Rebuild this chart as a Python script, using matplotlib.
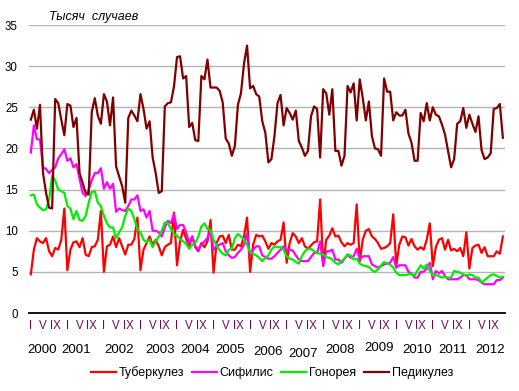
import numpy as np
import matplotlib
matplotlib.use("Agg")
import matplotlib.pyplot as plt
from matplotlib.transforms import blended_transform_factory

plt.rcParams['font.family'] = ['Liberation Sans', 'DejaVu Sans']

# monthly data, Jan 2000 - Dec 2012, thousand cases
tuberculosis = [
    4.7, 7.7, 9.1, 8.7, 8.5, 9.1, 7.5, 6.9, 7.9, 7.7, 8.9, 12.7,
    5.2, 7.7, 8.6, 8.7, 8.0, 9.1, 7.1, 6.9, 8.0, 8.1, 8.9, 12.4,
    5.0, 8.1, 8.3, 9.3, 8.0, 9.1, 8.1, 7.1, 8.3, 8.3, 9.0, 11.6,
    5.2, 7.7, 8.5, 9.3, 8.3, 8.9, 8.1, 7.0, 8.0, 8.3, 8.5, 12.2,
    5.8, 8.7, 10.1, 9.0, 8.1, 9.3, 8.0, 7.5, 8.5, 8.0, 8.7, 11.3,
    4.9, 8.5, 9.3, 9.4, 8.5, 9.5, 7.7, 7.7, 8.3, 8.1, 9.3, 11.6,
    5.0, 8.3, 9.5, 9.3, 9.4, 8.7, 7.8, 8.5, 8.3, 8.7, 8.9, 11.0,
    6.1, 8.5, 9.7, 9.3, 8.5, 9.1, 8.1, 7.8, 8.2, 8.6, 8.7, 13.8,
    5.8, 8.9, 9.4, 10.3, 9.3, 9.4, 8.6, 8.1, 8.5, 8.3, 8.5, 13.2,
    6.3, 8.9, 10.0, 10.2, 9.3, 9.0, 8.5, 7.8, 7.9, 8.1, 8.5, 12.0,
    5.8, 8.3, 9.3, 9.2, 8.2, 9.0, 8.1, 7.7, 8.0, 7.7, 8.9, 10.9,
    5.7, 8.0, 8.9, 9.1, 7.7, 8.9, 7.6, 7.8, 7.5, 7.9, 6.9, 9.8,
    5.4, 7.9, 8.2, 8.3, 7.3, 8.0, 6.9, 6.9, 6.9, 7.5, 7.2, 9.3,
]
syphilis = [
    19.5, 22.8, 21.1, 21.1, 17.7, 17.5, 17.0, 17.4, 17.7, 18.8, 19.3, 19.9,
    18.5, 18.8, 17.7, 18.1, 16.3, 14.6, 14.2, 15.0, 16.1, 17.0, 17.0, 17.6,
    15.1, 15.9, 15.1, 15.7, 12.3, 12.7, 12.5, 12.4, 13.0, 13.8, 13.8, 14.3,
    12.4, 12.6, 11.6, 12.4, 10.0, 10.0, 9.8, 9.3, 10.4, 11.2, 10.9, 12.0,
    10.2, 10.7, 10.7, 9.8, 8.5, 9.3, 8.1, 7.7, 8.3, 8.7, 9.1, 10.0,
    7.7, 8.1, 8.3, 8.5, 7.5, 7.0, 6.7, 6.8, 7.3, 7.7, 8.3, 9.6,
    7.0, 7.7, 8.1, 8.1, 7.0, 6.8, 6.6, 6.6, 6.9, 7.3, 7.7, 8.1,
    7.7, 7.7, 7.6, 7.0, 6.5, 6.3, 6.3, 6.3, 6.8, 7.3, 7.3, 8.7,
    5.7, 7.5, 7.5, 7.7, 6.5, 6.5, 6.1, 6.6, 7.1, 6.7, 6.9, 7.8,
    6.5, 6.9, 6.9, 6.9, 5.9, 5.7, 5.5, 5.7, 5.9, 6.0, 6.1, 6.8,
    5.5, 5.8, 5.8, 5.8, 5.0, 4.8, 4.3, 4.3, 5.0, 5.0, 5.4, 6.1,
    4.1, 5.1, 4.8, 5.1, 4.5, 4.1, 4.1, 4.1, 4.1, 4.3, 4.6, 4.6,
    4.1, 4.1, 4.1, 4.0, 3.7, 3.5, 3.5, 3.5, 3.5, 4.0, 4.0, 4.3,
]
gonorrhea = [
    14.3, 14.4, 13.2, 12.8, 12.5, 12.6, 13.8, 16.7, 16.1, 15.0, 14.8, 14.6,
    13.0, 12.7, 11.4, 12.4, 11.3, 11.2, 11.8, 13.4, 14.7, 14.8, 13.4, 13.0,
    11.8, 10.9, 10.4, 10.4, 9.1, 9.8, 10.4, 11.8, 12.7, 12.4, 11.4, 10.2,
    9.8, 8.9, 8.6, 8.9, 8.0, 8.7, 9.3, 10.0, 11.0, 10.9, 10.2, 9.6,
    9.4, 9.0, 8.7, 8.4, 7.8, 8.3, 8.5, 9.3, 10.5, 10.9, 10.2, 10.1,
    8.9, 8.2, 7.6, 7.2, 7.0, 7.7, 7.8, 9.1, 9.6, 9.3, 8.9, 8.3,
    7.4, 7.2, 7.0, 6.7, 6.3, 6.7, 7.0, 7.7, 8.1, 8.0, 8.0, 7.7,
    6.9, 6.6, 6.5, 6.2, 6.0, 6.9, 7.5, 7.8, 7.8, 7.5, 7.3, 7.2,
    7.1, 6.8, 6.7, 6.5, 6.1, 5.9, 6.3, 6.6, 7.1, 7.0, 6.5, 6.6,
    6.0, 5.8, 5.7, 5.6, 5.2, 5.0, 5.3, 5.8, 6.2, 6.0, 5.9, 5.5,
    4.9, 4.6, 4.6, 4.6, 4.7, 4.8, 4.5, 5.2, 5.8, 5.4, 5.9, 5.1,
    4.6, 4.6, 4.5, 4.3, 4.4, 4.3, 4.3, 5.1, 5.0, 4.9, 4.7, 4.5,
    4.7, 4.6, 4.3, 4.3, 3.7, 4.0, 4.3, 4.6, 4.7, 4.5, 4.3, 4.4,
]
pediculosis = [
    23.5, 24.7, 22.4, 25.3, 17.0, 14.6, 12.8, 12.7, 26.0, 25.5, 23.5, 21.6,
    25.4, 25.2, 22.6, 23.7, 17.0, 15.8, 14.6, 14.4, 24.4, 26.1, 24.0, 23.0,
    26.6, 25.7, 22.8, 26.2, 17.8, 16.6, 15.4, 13.4, 23.7, 24.6, 24.0, 23.3,
    26.6, 24.8, 22.4, 23.3, 18.9, 17.0, 14.6, 14.8, 25.1, 25.5, 25.6, 27.5,
    31.1, 31.2, 28.5, 28.8, 22.6, 23.1, 21.0, 20.9, 28.8, 28.4, 30.8, 27.4,
    27.4, 27.4, 27.0, 25.6, 21.2, 20.6, 19.1, 20.3, 25.3, 26.7, 30.3, 32.5,
    27.3, 27.6, 26.6, 26.3, 23.3, 21.9, 18.3, 18.7, 21.5, 25.5, 26.5, 22.8,
    24.9, 24.3, 23.5, 24.6, 20.9, 20.1, 19.1, 19.7, 23.9, 25.1, 24.8, 18.9,
    27.2, 26.7, 24.1, 27.2, 19.7, 19.7, 17.9, 19.1, 27.6, 26.8, 27.9, 23.4,
    28.4, 26.1, 23.4, 25.7, 21.5, 20.0, 19.9, 19.1, 28.5, 26.9, 26.9, 23.4,
    24.4, 24.0, 24.0, 24.7, 21.8, 20.7, 18.5, 18.5, 24.3, 23.3, 25.5, 23.4,
    25.0, 24.1, 23.9, 22.9, 21.7, 19.7, 17.7, 18.7, 23.0, 23.3, 24.9, 22.5,
    24.1, 23.0, 22.0, 23.9, 19.8, 18.7, 18.9, 19.4, 24.8, 24.9, 25.4, 21.3,
]

series_names = ['Туберкулез', 'Сифилис', 'Гонорея', 'Педикулез']
series_colors = ['#ff0000', '#ff00ff', '#00ee00', '#800000']
years = ['2000', '2001', '2002', '2003', '2004', '2005', '2006',
         '2007', '2008', '2009', '2010', '2011', '2012']
month_marks = ['I', 'V', 'IX']

fig = plt.figure(figsize=(5.19, 3.91), dpi=100)
ax = fig.add_axes([29 / 519, 1 - 313 / 391, 476 / 519, 288 / 391])

x = np.arange(len(tuberculosis))
for vals, name, col in zip([tuberculosis, syphilis, gonorrhea, pediculosis],
                           series_names, series_colors):
    ax.plot(x, vals, color=col, lw=1.6, label=name)

ax.set_xlim(-0.6, 155.7)
ax.set_ylim(0, 35)
ax.set_yticks(range(0, 36, 5))
ax.tick_params(axis='y', length=0, pad=8, labelsize=8.3)
ax.yaxis.grid(True, color='#b4b4b4', lw=1)
ax.set_axisbelow(True)
for s in ['left', 'right', 'top']:
    ax.spines[s].set_visible(False)
ax.spines['bottom'].set_linewidth(1.3)

# month labels under the axis
ticks = []
labels = []
for y in range(len(years)):
    for m, lab in zip([0, 4, 8], month_marks):
        ticks.append(y * 12 + m)
        labels.append(lab)
ax.set_xticks(ticks)
ax.set_xticklabels(labels, color='#6a0a5a', fontsize=8.3)
ax.tick_params(axis='x', length=0, pad=5)

# year labels, placed by hand as in the original
year_x = [3.6, 14.8, 28.9, 42.4, 53.9, 65.4, 77.8, 89.3, 101.5, 114.3, 126.8, 138.6, 150.7]
year_y = [350, 350, 350, 350, 350, 350, 352, 354, 350, 348, 350, 350, 350]
trans = blended_transform_factory(ax.transData, fig.transFigure)
for lab, xp, yp in zip(years, year_x, year_y):
    ax.text(xp, 1 - yp / 391, lab, transform=trans,
            ha='center', va='center', fontsize=9.5)

fig.text(49 / 519, 1 - 17 / 391, 'Тысяч  случаев', style='italic',
         fontsize=9, va='center', ha='left')

fig.legend(loc='center', bbox_to_anchor=(272 / 519, 1 - 373 / 391), ncol=4,
           frameon=False, fontsize=9, handlelength=2.0, handletextpad=0.25,
           columnspacing=0.6)

fig.savefig('out.png', dpi=100)
